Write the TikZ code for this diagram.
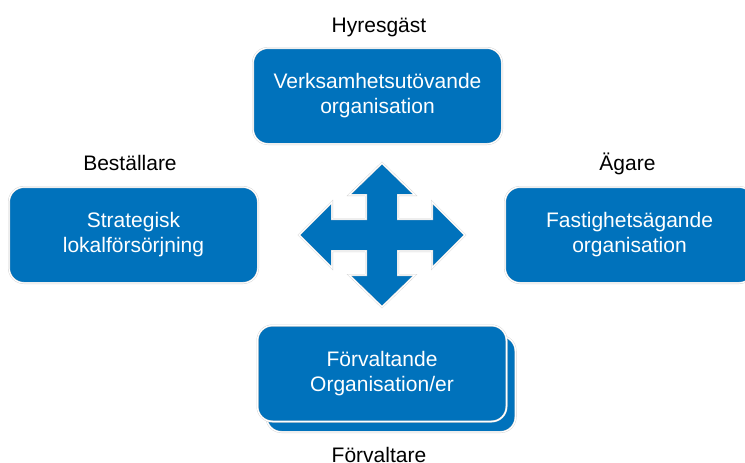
\documentclass[tikz,border=0pt]{standalone}
\usepackage{fontspec}
\setmainfont{Liberation Sans}
\definecolor{boxblue}{RGB}{0,114,188}
\tikzset{
    box/.style={rectangle, rounded corners=15pt, fill=boxblue, draw=black!18,
    	double=white, double distance=1.2pt, line width=.4pt,
    	minimum width=249pt, minimum height=96pt, align=center, text=white,
    	font=\fontsize{21}{25}\selectfont},
    role/.style={anchor=base, font=\fontsize{21}{25}\selectfont}
}

\begin{document}
\begin{tikzpicture}[x=1pt, y=-1pt]
	\clip (0,0) rectangle (745,463);
	\node [box] (v) at (377.5,96) {Verksamhetsutövande\\organisation};
	\node [box] (s) at (133.5,235) {Strategisk\\lokalförsörjning};
	\node [box] (a) at (629.5,235) {Fastighetsägande\\organisation};
	\node [box] (f2) at (391,384) {};
	\node [box] (f) at (382,373.5) {Förvaltande\\Organisation/er};
	\node [role] (hyr) at (379,32) {Hyresgäst};
	\node [role] (best) at (130,170) {Beställare};
	\node [role] (ag) at (627.5,170.5) {Ägare};
	\node [role] (forv) at (379,462) {Förvaltare};
	\begin{scope}[shift={(382,235)}]
	\filldraw [fill=boxblue, draw=black!18, double=white,
		double distance=1.2pt, line width=.4pt]
		(0,-72) -- (33,-40) -- (16,-40) -- (16,-16) -- (50,-16) -- (50,-33)
		-- (83,0) -- (50,33) -- (50,16) -- (16,16) -- (16,40) -- (33,40)
		-- (0,72) -- (-33,40) -- (-16,40) -- (-16,16) -- (-50,16) -- (-50,33)
		-- (-83,0) -- (-50,-33) -- (-50,-16) -- (-16,-16) -- (-16,-40)
		-- (-33,-40) -- cycle;
	\end{scope}
\end{tikzpicture}
\end{document}
